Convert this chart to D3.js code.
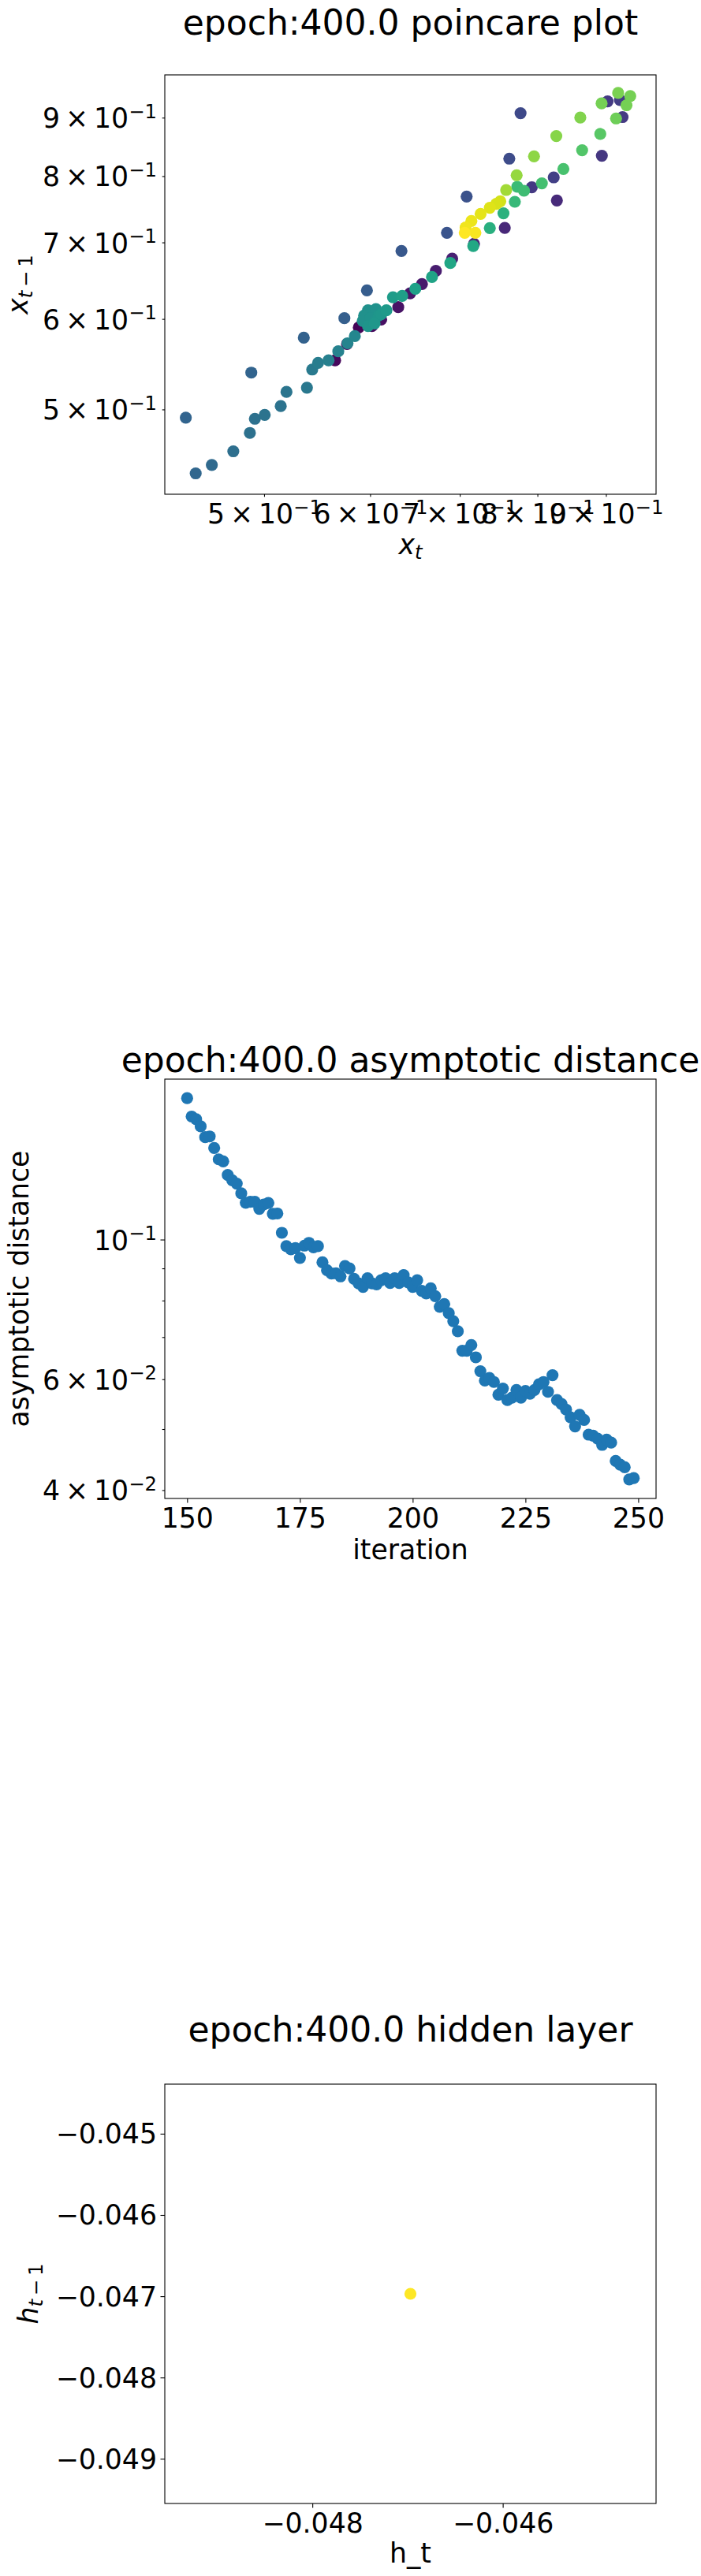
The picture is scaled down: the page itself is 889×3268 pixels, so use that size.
<!DOCTYPE html>
<html>
<head>
<meta charset="utf-8">
<script src="https://cdn.jsdelivr.net/npm/d3@7"></script>
<style>
html,body{margin:0;padding:0;background:#fff;}
svg{display:block;}
</style>
</head>
<body>
<div id="chart"></div>
<script>
// ---------------- DATA ----------------
// Panel 1: poincare plot  (x_t, x_{t-1}), colour = position in sequence (0..1, viridis)
const poincareXt = [
  0.4370,0.4445,0.4570,0.4742,0.4879,0.4921,0.5005,0.4891,0.5145,0.5196,
  0.5382,0.5353,0.5431,0.5486,0.5586,0.5649,0.5680,0.5766,0.5771,0.5844,
  0.5740,0.5967,0.5978,0.6060,0.5938,0.6005,0.6087,0.5924,0.5978,0.6046,
  0.6115,0.6170,0.5884,0.6019,0.6115,0.6240,0.6340,0.6297,0.6427,0.6485,
  0.6559,0.6332,0.6673,0.6718,0.6887,0.6909,0.7173,0.7164,0.6847,0.7060,
  0.7190,0.7070,0.7141,0.7255,0.7371,0.7454,0.7505,0.7371,0.7563,0.7546,
  0.7083,0.7581,0.7695,0.7719,0.7727,0.7817,0.7923,0.8061,0.8227,0.8365,
  0.8272,0.7622,0.7953,0.8639,0.8937,0.8913,0.8264,0.8612,0.7771,0.9261,
  0.9158,0.9324,0.9220,0.9026,0.8933,0.9191,0.9384
];
const poincareXtPrev = [
  0.4918,0.4396,0.4471,0.4596,0.4769,0.4907,0.4946,0.5385,0.5034,0.5180,
  0.5224,0.5777,0.5419,0.5491,0.5520,0.5520,0.5621,0.5704,0.5713,0.5796,
  0.6009,0.6355,0.6105,0.6120,0.6040,0.6009,0.6040,0.5976,0.5914,0.5945,
  0.6057,0.6105,0.5898,0.5914,0.5992,0.6268,0.6285,0.6144,0.6318,0.6375,
  0.6437,0.6881,0.6529,0.6610,0.6716,0.6776,0.6980,0.6950,0.7137,0.7137,
  0.7137,0.7213,0.7309,0.7414,0.7506,0.7565,0.7605,0.7205,0.7208,0.7423,
  0.7678,0.7780,0.7597,0.8015,0.7830,0.7768,0.7822,0.7885,0.7980,0.8117,
  0.7617,0.8287,0.8326,0.8429,0.8335,0.8709,0.8673,0.9001,0.9082,0.9011,
  0.8986,0.9228,0.9325,0.9301,0.9262,0.9459,0.9400
];
const poincareColour = [
  0.32,0.33,0.34,0.36,0.37,0.37,0.38,0.32,0.38,0.39,
  0.40,0.31,0.41,0.42,0.43,0.02,0.44,0.03,0.45,0.46,
  0.30,0.29,0.50,0.51,0.50,0.51,0.52,0.50,0.52,0.53,
  0.53,0.54,0.01,0.02,0.04,0.55,0.56,0.05,0.06,0.57,
  0.07,0.27,0.58,0.08,0.59,0.09,0.10,0.60,0.26,1.00,
  0.99,0.98,0.97,0.96,0.95,0.94,0.93,0.63,0.11,0.64,
  0.25,0.86,0.67,0.84,0.68,0.69,0.17,0.70,0.19,0.71,
  0.12,0.23,0.83,0.73,0.16,0.74,0.82,0.81,0.22,0.17,
  0.78,0.79,0.18,0.17,0.79,0.80,0.79
];
const poincareDomain = [0.4215, 0.981];
const poincareTicks = [0.5, 0.6, 0.7, 0.8, 0.9];

// Panel 2: asymptotic distance per iteration
const iterations = [
  150,151,152,153,154,155,156,157,158,159,160,161,162,163,164,165,166,167,168,169,
  170,171,172,173,174,175,176,177,178,179,180,181,182,183,184,185,186,187,188,189,
  190,191,192,193,194,195,196,197,198,199,200,201,202,203,204,205,206,207,208,209,
  210,211,212,213,214,215,216,217,218,219,220,221,222,223,224,225,226,227,228,229,
  230,231,232,233,234,235,236,237,238,239,240,241,242,243,244,245,246,247,248,249
];
const asymDistance = [
  0.1677,0.1568,0.1553,0.1513,0.1454,0.1458,0.1398,0.1341,0.1331,0.1266,
  0.1242,0.1227,0.1184,0.1144,0.1148,0.1148,0.1119,0.1137,0.1143,0.1099,
  0.1100,0.1025,0.0976,0.0965,0.0969,0.0935,0.0978,0.0988,0.0972,0.0976,
  0.0920,0.0894,0.0883,0.0884,0.0874,0.0908,0.0900,0.0866,0.0852,0.0841,
  0.0868,0.0852,0.0849,0.0862,0.0868,0.0853,0.0868,0.0853,0.0878,0.0855,
  0.0841,0.0862,0.0829,0.0821,0.0837,0.0813,0.0782,0.0790,0.0764,0.0742,
  0.0715,0.0666,0.0666,0.0680,0.0650,0.0618,0.0597,0.0603,0.0594,0.0567,
  0.0580,0.0556,0.0561,0.0577,0.0561,0.0575,0.0569,0.0577,0.0589,0.0594,
  0.0573,0.0609,0.0556,0.0548,0.0537,0.0522,0.0505,0.0527,0.0517,0.0490,
  0.0488,0.0483,0.0472,0.0481,0.0476,0.0445,0.0439,0.0435,0.0416,0.0418
];
const iterTicks = [150, 175, 200, 225, 250];
const asymMajorTicks = [0.1];
const asymMinorTicks = [0.04, 0.05, 0.06, 0.07, 0.08, 0.09];
const asymLabelledMinor = [0.04, 0.06];

// Panel 3: hidden layer
const hiddenHt = [-0.04697];
const hiddenHtPrev = [-0.04697];
const hiddenColour = [1.0];
const hiddenDomain = [-0.04955, -0.04439];
const hiddenXTicks = [-0.048, -0.046];
const hiddenYTicks = [-0.045, -0.046, -0.047, -0.048, -0.049];

const titles = ["epoch:400.0 poincare plot", "epoch:400.0 asymptotic distance", "epoch:400.0 hidden layer"];

// ---------------- LAYOUT ----------------
const W = 889, H = 3268;
const FONT = "'DejaVu Sans', 'Liberation Sans', sans-serif";
const TICK_FS = 34.7, SUP_FS = 24.3, TITLE_FS = 44;
const AX = {left: 209, width: 623, height: 532};
const panelTops = [95, 1369, 2644];
const R = 7.6;
const MAJOR = 5.5, MINOR = 3.3;

const svg = d3.select("#chart").append("svg")
  .attr("width", W).attr("height", H)
  .attr("viewBox", `0 0 ${W} ${H}`);
svg.append("rect").attr("width", W).attr("height", H).attr("fill", "#fff");

function sci(sel, mant, exp) {
  sel.text(null);
  sel.append("tspan").text((mant === 1 ? "" : mant + "\u2009\u00d7\u2009") + "10");
  sel.append("tspan").attr("font-size", SUP_FS).attr("dy", -12.5).text("\u2212" + Math.abs(exp));
}
function minusFmt(v) {
  return (v < 0 ? "\u2212" : "") + Math.abs(v).toFixed(3);
}
function styleAxis(g) {
  g.select(".domain").remove();
  g.selectAll("line").attr("stroke", "#000").attr("stroke-width", 1.1);
  g.selectAll("text").attr("font-family", FONT).attr("font-size", TICK_FS).attr("fill", "#000");
}
function xAxis(panel, scale, values, fmt, len) {
  const g = panel.append("g").attr("transform", `translate(0,${AX.height})`)
    .call(d3.axisBottom(scale).tickValues(values).tickSizeInner(len).tickSizeOuter(0).tickFormat(fmt));
  styleAxis(g);
  g.selectAll("text").attr("y", 37).attr("dy", null);
  return g;
}
function yAxis(panel, scale, values, fmt, len) {
  const g = panel.append("g")
    .call(d3.axisLeft(scale).tickValues(values).tickSizeInner(len).tickSizeOuter(0).tickFormat(fmt));
  styleAxis(g);
  g.selectAll("text").attr("x", -10).attr("dy", null).attr("y", 12.5).attr("text-anchor", "end");
  return g;
}
function frame(panel) {
  panel.append("rect").attr("x", 0).attr("y", 0).attr("width", AX.width).attr("height", AX.height)
    .attr("fill", "none").attr("stroke", "#000").attr("stroke-width", 1.1);
}
function title(panel, text, yBase) {
  panel.append("text").attr("x", AX.width / 2).attr("y", yBase).attr("text-anchor", "middle")
    .attr("font-family", FONT).attr("font-size", TITLE_FS).attr("fill", "#000").text(text);
}
function clip(panel, id) {
  panel.append("clipPath").attr("id", id).append("rect")
    .attr("width", AX.width).attr("height", AX.height);
  return panel.append("g").attr("clip-path", `url(#${id})`);
}

// ---------------- PANEL 1 ----------------
{
  const p = svg.append("g").attr("transform", `translate(${AX.left},${panelTops[0]})`);
  const x = d3.scaleLog().domain(poincareDomain).range([0, AX.width]);
  const y = d3.scaleLog().domain(poincareDomain).range([AX.height, 0]);
  const pts = poincareXt.map((v, i) => ({x: v, y: poincareXtPrev[i], c: poincareColour[i]}))
    .sort((a, b) => a.c - b.c);
  clip(p, "clip1").selectAll("circle").data(pts).join("circle")
    .attr("cx", d => x(d.x)).attr("cy", d => y(d.y)).attr("r", R)
    .attr("fill", d => d3.interpolateViridis(d.c));
  frame(p);
  const gx = xAxis(p, x, poincareTicks, d => "", MINOR);
  gx.selectAll("text").each(function (d) { sci(d3.select(this), Math.round(d * 10), -1); });
  const gy = yAxis(p, y, poincareTicks, d => "", MINOR);
  gy.selectAll("text").each(function (d) { sci(d3.select(this), Math.round(d * 10), -1); });
  title(p, titles[0], 44 - panelTops[0]);
  // x label  x_t
  const xl = p.append("text").attr("x", AX.width / 2).attr("y", 703 - panelTops[0]).attr("text-anchor", "middle")
    .attr("font-family", FONT).attr("font-size", TICK_FS);
  xl.append("tspan").attr("font-style", "italic").text("x");
  xl.append("tspan").attr("font-style", "italic").attr("font-size", SUP_FS).attr("dy", 6).text("t");
  // y label x_{t-1}
  const yl = p.append("text").attr("transform", `translate(${35 - AX.left},${AX.height / 2}) rotate(-90)`)
    .attr("text-anchor", "middle").attr("font-family", FONT).attr("font-size", TICK_FS);
  yl.append("tspan").attr("font-style", "italic").text("x");
  yl.append("tspan").attr("font-size", SUP_FS).attr("dy", 6)
    .html("<tspan font-style='italic'>t</tspan>\u2009\u2212\u20091");
}

// ---------------- PANEL 2 ----------------
{
  const p = svg.append("g").attr("transform", `translate(${AX.left},${panelTops[1]})`);
  const xe = d3.extent(iterations), xm = (xe[1] - xe[0]) * 0.05;
  const x = d3.scaleLinear().domain([xe[0] - xm, xe[1] + xm]).range([0, AX.width]);
  const le = d3.extent(asymDistance).map(Math.log10), lm = (le[1] - le[0]) * 0.05;
  const y = d3.scaleLog().domain([Math.pow(10, le[0] - lm), Math.pow(10, le[1] + lm)]).range([AX.height, 0]);
  clip(p, "clip2").selectAll("circle").data(iterations).join("circle")
    .attr("cx", d => x(d)).attr("cy", (d, i) => y(asymDistance[i])).attr("r", R)
    .attr("fill", "#1f77b4");
  frame(p);
  xAxis(p, x, iterTicks, d3.format("d"), MAJOR);
  const gmin = yAxis(p, y, asymMinorTicks, d => "", MINOR);
  gmin.selectAll("text").each(function (d) {
    if (asymLabelledMinor.includes(d)) sci(d3.select(this), Math.round(d * 100), -2);
  });
  const gmaj = yAxis(p, y, asymMajorTicks, d => "", MAJOR);
  gmaj.selectAll("text").each(function () { sci(d3.select(this), 1, -1); });
  title(p, titles[1], 1360 - panelTops[1]);
  p.append("text").attr("x", AX.width / 2).attr("y", 1978 - panelTops[1]).attr("text-anchor", "middle")
    .attr("font-family", FONT).attr("font-size", TICK_FS).text("iteration");
  p.append("text").attr("transform", `translate(${36 - AX.left},${AX.height / 2}) rotate(-90)`)
    .attr("text-anchor", "middle").attr("font-family", FONT).attr("font-size", TICK_FS)
    .text("asymptotic distance");
}

// ---------------- PANEL 3 ----------------
{
  const p = svg.append("g").attr("transform", `translate(${AX.left},${panelTops[2]})`);
  const x = d3.scaleLinear().domain(hiddenDomain).range([0, AX.width]);
  const y = d3.scaleLinear().domain(hiddenDomain).range([AX.height, 0]);
  clip(p, "clip3").selectAll("circle").data(hiddenHt).join("circle")
    .attr("cx", d => x(d)).attr("cy", (d, i) => y(hiddenHtPrev[i])).attr("r", R)
    .attr("fill", (d, i) => d3.interpolateViridis(hiddenColour[i]));
  frame(p);
  xAxis(p, x, hiddenXTicks, minusFmt, MAJOR);
  const gy = yAxis(p, y, hiddenYTicks, minusFmt, MAJOR);
  gy.selectAll("text").attr("y", 12);
  title(p, titles[2], 2590 - panelTops[2]);
  p.append("text").attr("x", AX.width / 2).attr("y", 3251 - panelTops[2]).attr("text-anchor", "middle")
    .attr("font-family", FONT).attr("font-size", TICK_FS).text("h_t");
  const yl = p.append("text").attr("transform", `translate(${48 - AX.left},${AX.height / 2}) rotate(-90)`)
    .attr("text-anchor", "middle").attr("font-family", FONT).attr("font-size", TICK_FS);
  yl.append("tspan").attr("font-style", "italic").text("h");
  yl.append("tspan").attr("font-size", SUP_FS).attr("dy", 6)
    .html("<tspan font-style='italic'>t</tspan>\u2009\u2212\u20091");
}
</script>
</body>
</html>
